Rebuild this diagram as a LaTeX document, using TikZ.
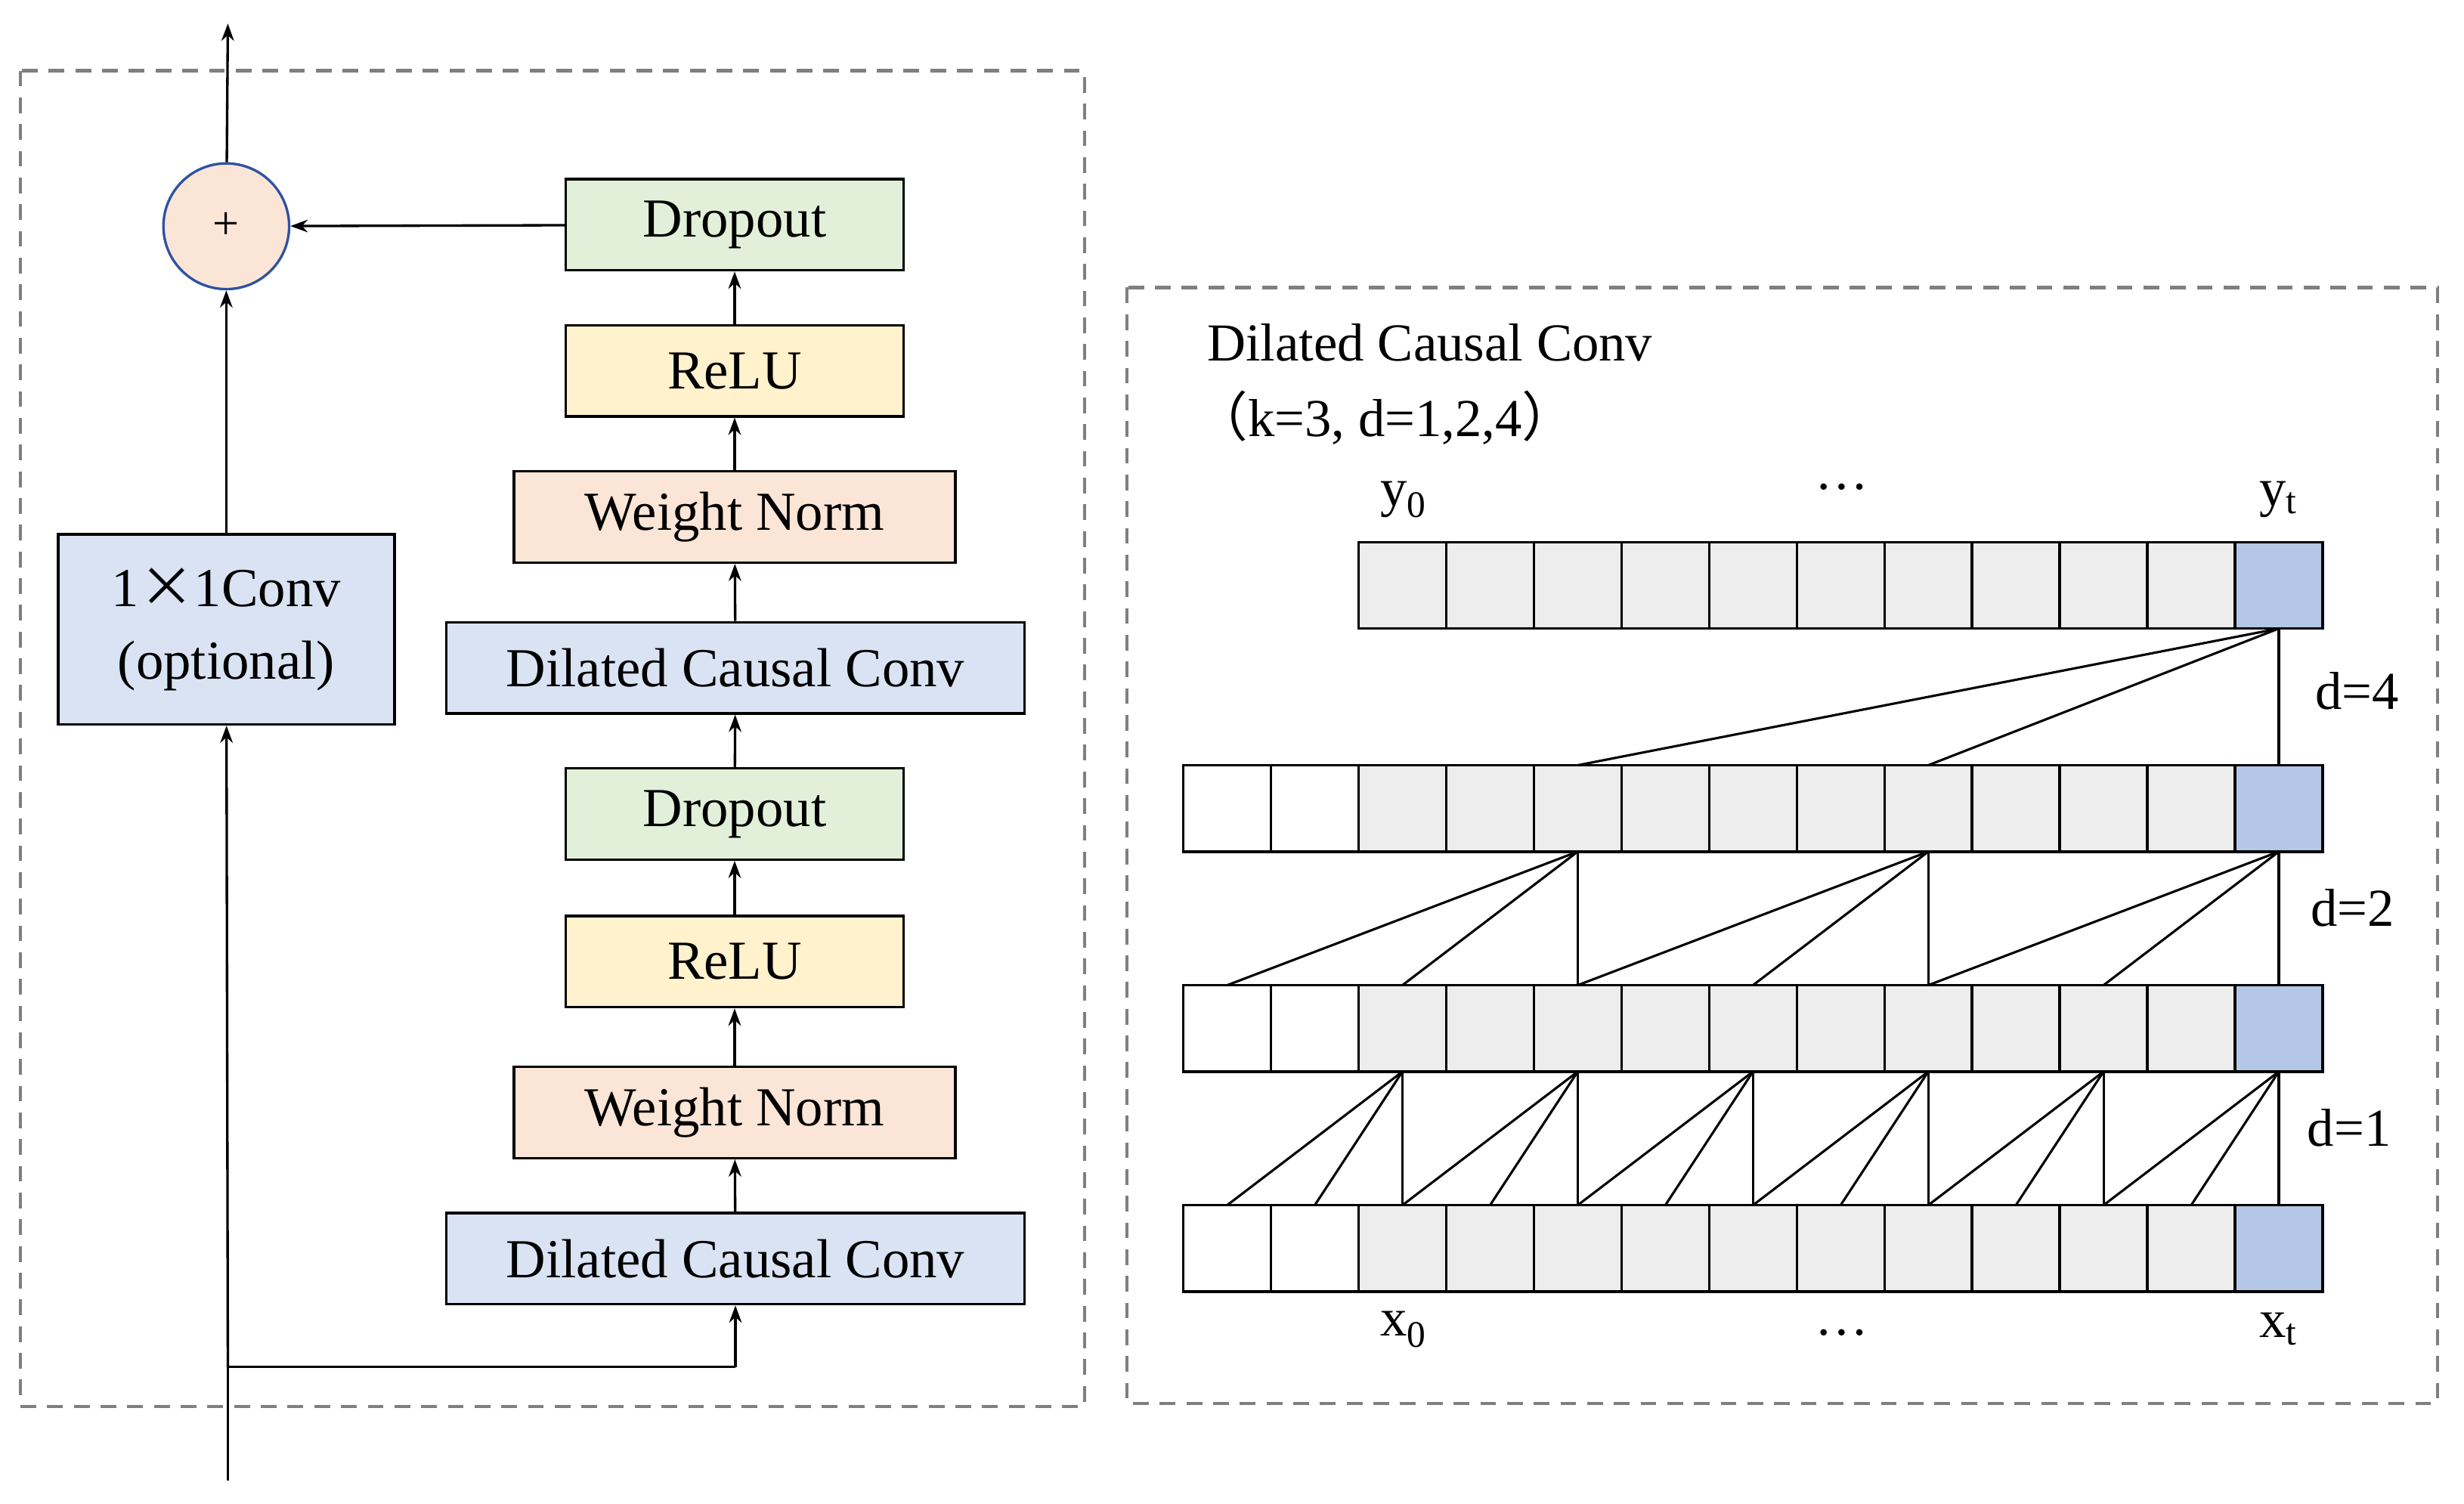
\documentclass[tikz,border=0pt]{standalone}
\usepackage{fontspec}
\setmainfont{Liberation Serif}
\newfontfamily\cjk{Noto Sans CJK SC}
\usetikzlibrary{arrows.meta}
\definecolor{cgreen}{HTML}{E2F0D9}
\definecolor{cyellow}{HTML}{FFF2CC}
\definecolor{cpeach}{HTML}{FBE5D6}
\definecolor{cblue}{HTML}{DAE3F3}
\definecolor{cgrid}{HTML}{EDEDED}
\definecolor{cout}{HTML}{B4C7E7}
\definecolor{cdash}{HTML}{7F7F7F}
\definecolor{ccirc}{HTML}{2F52A0}
\begin{document}
\begin{tikzpicture}[x=1pt,y=-1pt,
  box/.style={draw, line width=1.6pt, minimum height=58pt, inner sep=0pt, font=\fontsize{35}{38}\selectfont},
  arr/.style={-{Stealth[length=11pt,width=8pt]}, line width=1.6pt},
  frame/.style={draw=cdash, dashed, line width=2pt, dash pattern=on 10pt off 7pt},
  lbl/.style={font=\fontsize{34}{38}\selectfont, inner sep=0pt},
  cell/.style={draw, line width=1.6pt},
  ln/.style={line width=1.5pt}]
\useasboundingbox (0,0) rectangle (1568,957);
\draw[frame] (13,45) rectangle (690,895);
\draw[frame] (717,183) rectangle (1551,893);
% left column
\node[box, fill=cgreen, minimum width=215pt] (dp1) at (467.5,143) {Dropout};
\node[box, fill=cyellow, minimum width=215pt] (re1) at (467.5,236) {ReLU};
\node[box, fill=cpeach, minimum width=281pt] (wn1) at (467.5,329) {Weight Norm};
\node[box, fill=cblue, minimum width=368pt] (dc1) at (468,425) {Dilated Causal Conv};
\node[box, fill=cgreen, minimum width=215pt] (dp2) at (467.5,518) {Dropout};
\node[box, fill=cyellow, minimum width=215pt] (re2) at (467.5,612) {ReLU};
\node[box, fill=cpeach, minimum width=281pt] (wn2) at (467.5,708) {Weight Norm};
\node[box, fill=cblue, minimum width=368pt] (dc2) at (468,801) {Dilated Causal Conv};
\node[box, fill=cblue, minimum width=214pt, minimum height=121pt, align=center, font=\fontsize{35}{46}\selectfont] (cv) at (144,400.5) {1{\cjk ×}1Conv\\(optional)};
\node[circle, draw=ccirc, fill=cpeach, line width=1.6pt, minimum size=80pt, inner sep=0pt, font=\fontsize{30}{32}\selectfont] (plus) at (144,144) {+};
\coordinate (in) at (145,942);
\coordinate (j) at (145,870);
\coordinate (jr) at (468,870);
\coordinate (out) at (145,15);
\draw[arr] (dc2) -- (wn2);
\draw[arr] (wn2) -- (re2);
\draw[arr] (re2) -- (dp2);
\draw[arr] (dp2) -- (dc1);
\draw[arr] (dc1) -- (wn1);
\draw[arr] (wn1) -- (re1);
\draw[arr] (re1) -- (dp1);
\draw[arr] (dp1) -- (plus);
\draw[arr] (cv) -- (plus);
\draw[arr] (plus) -- (out);
\draw[line width=1.6pt] (in) -- (j) -- (jr);
\draw[arr] (jr) -- (dc2.south);
\draw[arr] (j) -- (cv);
% right panel
\node[lbl, anchor=west] (t1) at (768,218) {Dilated Causal Conv};
\node[lbl, anchor=west] (t2) at (760,266) {{\cjk （}k=3, d=1,2,4{\cjk ）}};
\def\cw{55.77}
\foreach \r/\yt in {0/345,1/487,2/627,3/767}{
  \foreach \i in {0,...,12}{
    \pgfmathsetmacro{\xa}{753+\cw*\i}
    \pgfmathsetmacro{\xb}{753+\cw*(\i+1)}
    \ifnum\r=0 \ifnum\i<2 \else
      \ifnum\i=12 \draw[cell, fill=cout] (\xa,\yt) rectangle (\xb,\yt+55); \else
      \draw[cell, fill=cgrid] (\xa,\yt) rectangle (\xb,\yt+55); \fi\fi
    \else
      \ifnum\i<2 \draw[cell, fill=white] (\xa,\yt) rectangle (\xb,\yt+55);
      \else\ifnum\i=12 \draw[cell, fill=cout] (\xa,\yt) rectangle (\xb,\yt+55);
      \else \draw[cell, fill=cgrid] (\xa,\yt) rectangle (\xb,\yt+55); \fi\fi
    \fi
  }
}
% d=4
\foreach \k in {4,8,12}{\draw[ln] ({753+\cw*12.5},400) -- ({753+\cw*(\k+0.5)},487);}
% d=2
\foreach \j in {4,8,12}{\foreach \k in {0,2,4}{\draw[ln] ({753+\cw*(\j+0.5)},542) -- ({753+\cw*(\j-\k+0.5)},627);}}
% d=1
\foreach \j in {2,4,6,8,10,12}{\foreach \k in {0,1,2}{\draw[ln] ({753+\cw*(\j+0.5)},682) -- ({753+\cw*(\j-\k+0.5)},767);}}
\node[lbl] (y0) at (893,318) {y\textsubscript{0}};
\node[lbl] (yt) at (1450,318) {y\textsubscript{t}};
\node[lbl] (yd) at (1172,310) {\dots};
\node[lbl] (x0) at (893,846) {x\textsubscript{0}};
\node[lbl] (xt) at (1450,846) {x\textsubscript{t}};
\node[lbl] (xd) at (1172,848) {\dots};
\node[lbl] (d4) at (1500,440) {d=4};
\node[lbl] (d2) at (1497,578) {d=2};
\node[lbl] (d1) at (1495,718) {d=1};
\end{tikzpicture}
\end{document}
